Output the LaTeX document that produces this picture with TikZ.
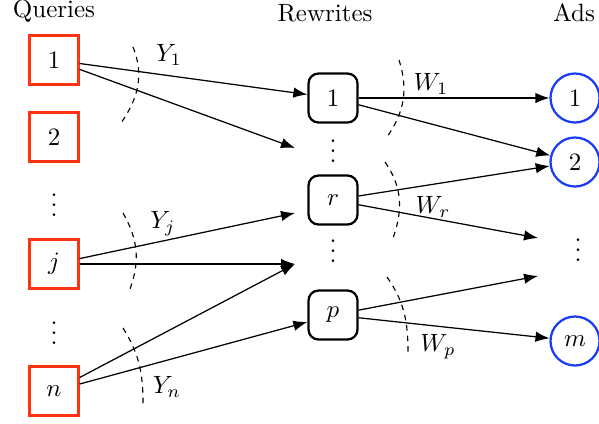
\documentclass[tikz,border=0pt]{standalone}
\usepackage{tikz}
\usepackage{xcolor}
\usetikzlibrary{
    arrows.meta,
    positioning,
    calc
}
\definecolor{queryred}{HTML}{FF3311}
\definecolor{adblue}{HTML}{1A3CF5}
\tikzset{
    % Query box style
    query/.style={
        rectangle,
        minimum size=19.5pt,
        inner sep=0pt,
        draw=queryred,
        line width=1pt
    },
    % Rewrite box style
    rewrite/.style={
        rectangle,
        rounded corners=4pt,
        minimum size=19.6pt,
        inner sep=0pt,
        draw=black,
        line width=0.9pt
    },
    % Ad circle style
    ad/.style={
        circle,
        minimum size=19.6pt,
        inner sep=0pt,
        draw=adblue,
        line width=0.9pt
    },
    % Arrow styles
    flow/.style={
        -{Latex[length=5.6pt, width=4.2pt]},
        line width=0.5pt
    },
    cut/.style={
        dashed,
        dash pattern=on 2.2pt off 2pt,
        line width=0.45pt
    },
    % Label style
    label text/.style={
        inner sep=1pt
    },
    % Section title style
    section title/.style={
        anchor=base
    }
}

\begin{document}
\begin{tikzpicture}[x=0.4pt, y=0.4pt]
        \useasboundingbox (0,0) rectangle (599,423);

        % Column titles
        \node[section title] (qtitle) at (54,406) {Queries};
        \node[section title] (rtitle) at (325,402) {Rewrites};
        \node[section title] (atitle) at (574,402) {Ads};

        % Queries
        \node[query] (q1) at (54,363) {1};
        \node[query] (q2) at (54,286) {2};
        \node (qdots1) at (54,225) {$\vdots$};
        \node[query] (qj) at (54,159) {$j$};
        \node (qdots2) at (54,97) {$\vdots$};
        \node[query] (qn) at (54,32) {$n$};

        % Rewrites
        \node[rewrite] (r1) at (333,325) {1};
        \node (rdots1) at (333,279) {$\vdots$};
        \node[rewrite] (rr) at (333,223) {$r$};
        \node (rdots2) at (333,179) {$\vdots$};
        \node[rewrite] (rp) at (333,108) {$p$};

        % Ads
        \node[ad] (a1) at (575,325) {1};
        \node[ad] (a2) at (575,261) {2};
        \node (adots) at (578,180) {$\vdots$};
        \node[ad] (am) at (575,82) {$m$};

        % Free ends
        \coordinate (f1) at (295,275);
        \coordinate (fj) at (295,210);
        \coordinate (fm) at (295,159);
        \coordinate (fr) at (538,185);
        \coordinate (fp) at (538,147);

        % Query to rewrite connections
        \draw[flow] (q1) -- (r1);
        \draw[flow] (q1) -- (f1);
        \draw[flow] (qj) -- (fj);
        \draw[flow] (qj) -- (fm);
        \draw[flow] (qn) -- (fm);
        \draw[flow] (qn) -- (rp);

        % Rewrite to ad connections
        \draw[flow] (r1) -- (a1);
        \draw[flow] (r1) -- (a2);
        \draw[flow] (rr) -- (a2);
        \draw[flow] (rr) -- (fr);
        \draw[flow] (rp) -- (fp);
        \draw[flow] (rp) -- (am);

        % Cuts and their weights
        \draw[cut] (133,376) to[out=-68, in=55] (121,300);
        \draw[cut] (123,210) to[out=-60, in=70] (130,134);
        \draw[cut] (123,95) to[out=-58, in=90] (143,20);
        \draw[cut] (399,363) to[out=-72, in=55] (387,286);
        \draw[cut] (385,261) to[out=-55, in=70] (393,185);
        \draw[cut] (387,146) to[out=-55, in=90] (408,70);

        \node[label text] (y1) at (169,368) {$Y_1$};
        \node[label text] (yj) at (163,199) {$Y_j$};
        \node[label text] (yn) at (167,36) {$Y_n$};
        \node[label text] (w1) at (431,339) {$W_1$};
        \node[label text] (wr) at (433,216) {$W_r$};
        \node[label text] (wp) at (438,76) {$W_p$};

    \end{tikzpicture}
\end{document}
